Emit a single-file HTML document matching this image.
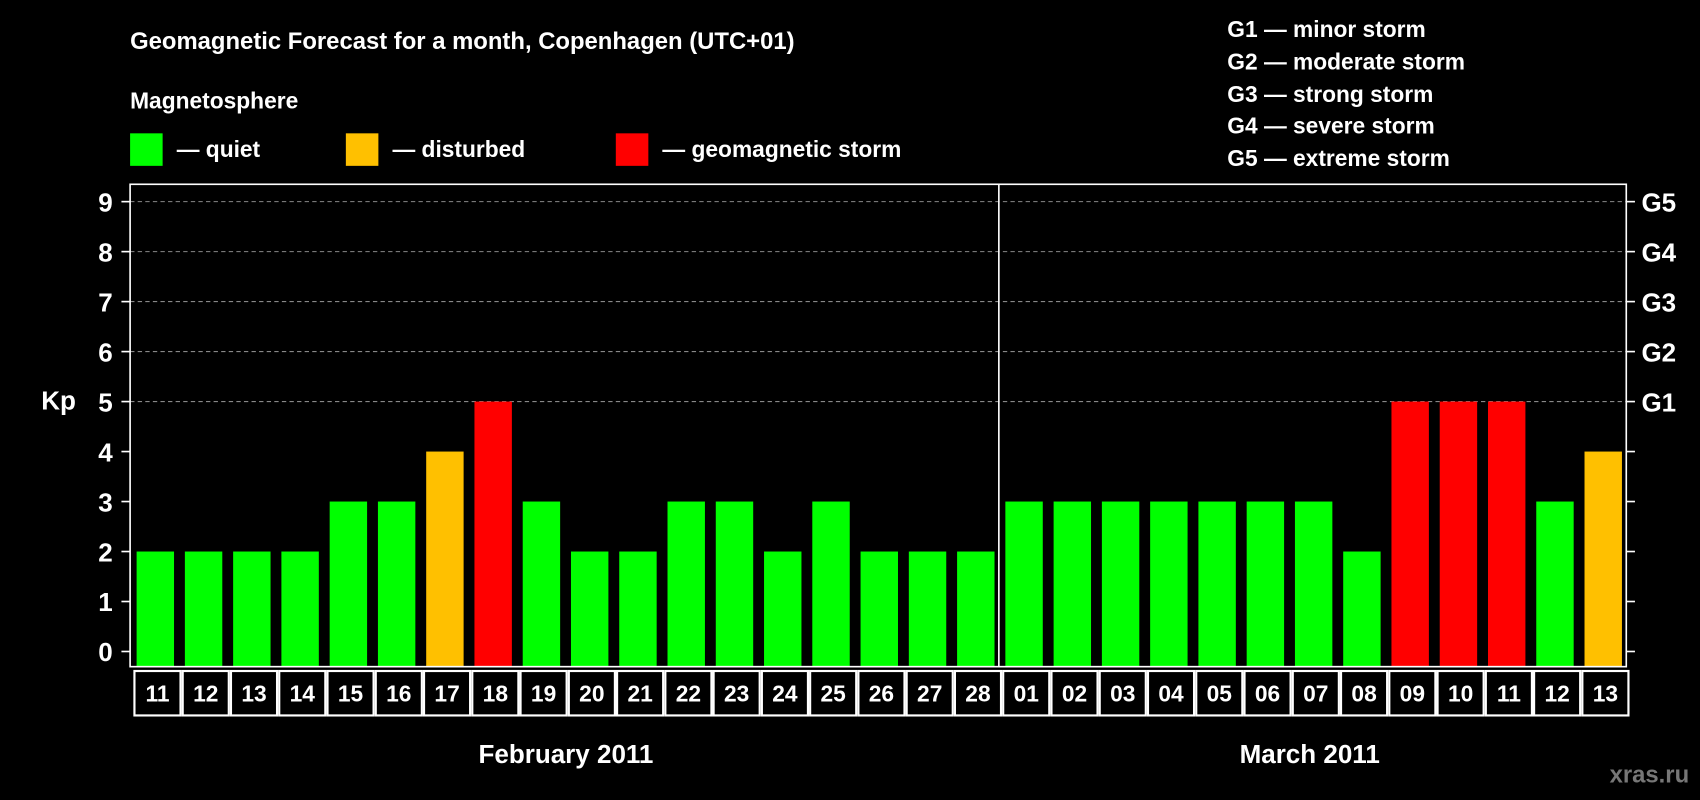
<!DOCTYPE html>
<html><head><meta charset="utf-8"><style>
html,body{margin:0;padding:0;background:#000;}
svg{display:block;font-family:"Liberation Sans",Arial,sans-serif;font-weight:bold;}
</style></head><body>
<svg id="chart" width="1700" height="800" viewBox="0 0 1568 738" preserveAspectRatio="none" xmlns="http://www.w3.org/2000/svg">
<rect x="0" y="0" width="1568" height="738" fill="#000"/>
<text x="120" y="45" fill="#fff" font-size="22">Geomagnetic Forecast for a month, Copenhagen (UTC+01)</text>
<text x="120" y="100" fill="#fff" font-size="21">Magnetosphere</text>
<g>
<rect x="120" y="123" width="30" height="30" fill="#00ff00"/>
<text x="163" y="145" fill="#fff" font-size="21">— quiet</text>
<rect x="319" y="123" width="30" height="30" fill="#ffc000"/>
<text x="362" y="145" fill="#fff" font-size="21">— disturbed</text>
<rect x="568" y="123" width="30" height="30" fill="#ff0000"/>
<text x="611" y="145" fill="#fff" font-size="21">— geomagnetic storm</text>
</g>
<g fill="#fff" font-size="21">
<text x="1132" y="34">G1 — minor storm</text>
<text x="1132" y="64">G2 — moderate storm</text>
<text x="1132" y="94">G3 — strong storm</text>
<text x="1132" y="123">G4 — severe storm</text>
<text x="1132" y="153">G5 — extreme storm</text>
</g>
<text x="38" y="378" fill="#fff" font-size="24">Kp</text>
<g id="plot"></g>
<text x="522" y="704" fill="#fff" font-size="24" text-anchor="middle">February 2011</text>
<text x="1208" y="704" fill="#fff" font-size="24" text-anchor="middle">March 2011</text>
<text x="1558" y="722" fill="#777" font-size="22" text-anchor="end">xras.ru</text>
</svg>
<script>
const days = ["11","12","13","14","15","16","17","18","19","20","21","22","23","24","25","26","27","28","01","02","03","04","05","06","07","08","09","10","11","12","13"];
const kpValues = [2,2,2,2,3,3,4,5,3,2,2,3,3,2,3,2,2,2,3,3,3,3,3,3,3,2,5,5,5,3,4];
const yTicks = [0,1,2,3,4,5,6,7,8,9];
const gLabels = ["G1","G2","G3","G4","G5"];
const gLevels = [5,6,7,8,9];
const monthSplitIndex = 18;

const NS = "http://www.w3.org/2000/svg";
const plot = document.getElementById('plot');
const X0 = 120, X1 = 1500, YTOP = 170, YBOT = 615;
const n = days.length, bw = (X1 - X0) / n;
const y = v => 601 - v * 46.11;
const x = i => X0 + i * bw;
function mk(tag, attrs) { const e = document.createElementNS(NS, tag); for (const k in attrs) e.setAttribute(k, attrs[k]); plot.appendChild(e); return e; }

gLevels.forEach(v => {
  const l = mk('line', {x1: X0, x2: X1, y1: y(v), y2: y(v), stroke: '#888', 'stroke-dasharray': '4,3', 'stroke-width': 1});
  
  
});
kpValues.forEach((v, i) => {
  const c = v >= 5 ? '#ff0000' : (v >= 4 ? '#ffc000' : '#00ff00');
  const r = mk('rect', {x: x(i) + 6, y: y(v), width: bw - 10, height: y(0) - y(v) + 14, fill: c});
  
  
});
const frame = mk('rect', {x: X0, y: YTOP, width: X1 - X0, height: YBOT - YTOP, fill: 'none', stroke: '#fff', 'stroke-width': 1.5});


const div = mk('line', {x1: x(monthSplitIndex), x2: x(monthSplitIndex), y1: YTOP, y2: YBOT, stroke: '#fff', 'stroke-width': 1.5});


yTicks.forEach(v => {
  mk('line', {x1: X0 - 8, x2: X0, y1: y(v), y2: y(v), stroke: '#fff', 'stroke-width': 1.5});
  mk('line', {x1: X1, x2: X1 + 8, y1: y(v), y2: y(v), stroke: '#fff', 'stroke-width': 1.5});
  const t = mk('text', {x: 104, y: y(v) + 9, fill: '#fff', 'font-size': 24, 'text-anchor': 'end'});
  t.textContent = v;
  
  
});
gLabels.forEach((g, i) => {
  const t = mk('text', {x: 1514, y: y(gLevels[i]) + 9, fill: '#fff', 'font-size': 24});
  t.textContent = g;
  
  
});
days.forEach((d, i) => {
  const r = mk('rect', {x: x(i) + 4, y: 619, width: bw - 2, height: 41, fill: '#000', stroke: '#fff', 'stroke-width': 2});
  
  
  const t = mk('text', {x: x(i) + bw / 2 + 3, y: 647, fill: '#fff', 'font-size': 21, 'text-anchor': 'middle'});
  t.textContent = d;
  
  
});
</script>
</body></html>
